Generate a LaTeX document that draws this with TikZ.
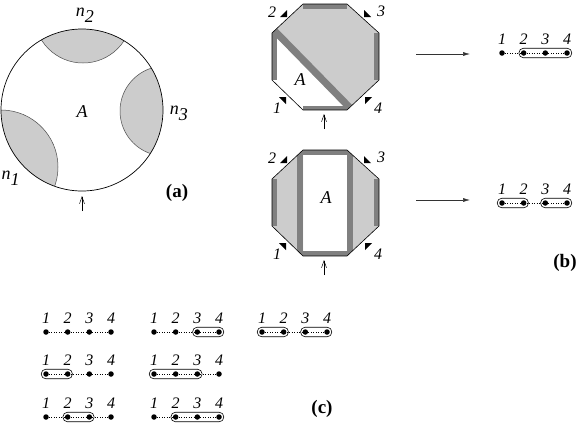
\documentclass[tikz,border=0pt]{standalone}
\usepackage{fontspec}
\setmainfont{Liberation Serif}
\usetikzlibrary{arrows.meta,fit}

\tikzset{
  pnt/.style={circle,fill=black,inner sep=0pt,minimum size=5.5pt},
  num/.style={font=\fontsize{16}{16}\selectfont\itshape,inner sep=1pt},
  txt/.style={font=\fontsize{18}{18}\selectfont\itshape,inner sep=0pt},
  tag/.style={font=\fontsize{19}{19}\selectfont\bfseries,inner sep=0pt},
  pairbox/.style={draw,rounded corners=4.5pt,inner sep=1.8pt,line width=0.6pt},
  band/.style={black!50,line width=7pt},
  halfmoon/.style={fill=gray!40,draw=black!70,line width=0.5pt},
  uparr/.style={-{Straight Barb[length=7pt,width=5pt]},line width=0.5pt},
  toarr/.style={-{Latex[length=7pt,width=4pt]},line width=0.5pt,black!80}
}

\begin{document}
\begin{tikzpicture}[x=1pt,y=-1pt,label distance=4pt]
\useasboundingbox (0,0) rectangle (581,424);

% (a)
\begin{scope}
\clip (82,110) circle (81pt);
\draw[halfmoon] (83,14) circle (49pt);
\draw[halfmoon] (165,111) circle (45pt);
\draw[halfmoon] (1,167) circle (57pt);
\end{scope}
\draw[line width=0.7pt] (82,110) circle (81pt);
\node[txt] (n2) at (85,15) {$\textit{n}_{\textit{2}}$};
\node[txt] (n3) at (179,113) {$\textit{n}_{\textit{3}}$};
\node[txt] (n1) at (11,178) {$\textit{n}_{\textit{1}}$};
\node[txt] (A1) at (82,112) {A};
\node[tag] (ta) at (177,193) {(a)};
\coordinate (a0) at (82,211);
\coordinate (a1) at (82,196);
\draw[uparr] (a0) -- (a1);

% (b) upper octagon
\fill[gray!40] (272,33) -- (303,4) -- (347,4) -- (379,33) -- (379,80) -- (347,110) -- cycle;
\begin{scope}
\clip (303,4) -- (347,4) -- (379,33) -- (379,80) -- (347,110) -- (303,110) -- (272,80) -- (272,33) -- cycle;
\draw[band] (264.5,20.5) -- (359.5,117.5);
\end{scope}
\fill[black!50] (303,4) rectangle (347,9);
\fill[black!50] (374,33) rectangle (379,80);
\fill[black!50] (272,33) rectangle (276.5,80);
\fill[black!50] (303,105.5) rectangle (347,110);
\draw[line width=0.6pt] (303,4) -- (347,4) -- (379,33) -- (379,80) -- (347,110) -- (303,110) -- (272,80) -- (272,33) -- cycle;
\fill (287,17) -- (280,17) -- (287,10) -- cycle;
\fill (364,17) -- (371,17) -- (364,10) -- cycle;
\fill (365,97) -- (372,97) -- (365,104) -- cycle;
\fill (286,97) -- (279,97) -- (286,104) -- cycle;
\node[num] (u2) at (272,12) {2};
\node[num] (u3) at (381,11) {3};
\node[num] (u1) at (277,108) {1};
\node[num] (u4) at (378,108) {4};
\node[txt] (A2) at (300,80) {A};
\coordinate (u5) at (324,129);
\coordinate (u6) at (324,114);
\draw[uparr] (u5) -- (u6);

% (b) lower octagon
\fill[gray!40] (303,150) -- (272,179) -- (272,226) -- (303,256) -- cycle;
\fill[gray!40] (347,150) -- (379,179) -- (379,226) -- (347,256) -- cycle;
\begin{scope}
\clip (303,150) -- (347,150) -- (379,179) -- (379,226) -- (347,256) -- (303,256) -- (272,226) -- (272,179) -- cycle;
\fill[black!50] (297,140) rectangle (303,266);
\fill[black!50] (347,140) rectangle (353,266);
\end{scope}
\fill[black!50] (303,150) rectangle (347,155);
\fill[black!50] (303,251) rectangle (347,256);
\fill[black!50] (272,179) rectangle (277,226);
\fill[black!50] (374,179) rectangle (379,226);
\draw[line width=0.6pt] (303,150) -- (347,150) -- (379,179) -- (379,226) -- (347,256) -- (303,256) -- (272,226) -- (272,179) -- cycle;
\fill (287,163) -- (280,163) -- (287,156) -- cycle;
\fill (364,163) -- (371,163) -- (364,156) -- cycle;
\fill (365,243) -- (372,243) -- (365,250) -- cycle;
\fill (286,243) -- (279,243) -- (286,250) -- cycle;
\node[num] (l2) at (272,158) {2};
\node[num] (l3) at (381,157) {3};
\node[num] (l1) at (277,254) {1};
\node[num] (l4) at (378,254) {4};
\node[txt] (A3) at (326,198) {A};
\coordinate (l5) at (324,275);
\coordinate (l6) at (324,260);
\draw[uparr] (l5) -- (l6);

% maps to chains
\coordinate (m1) at (416,54);
\coordinate (m2) at (470,54);
\draw[toarr] (m1) -- (m2);
\coordinate (m3) at (416,200);
\coordinate (m4) at (470,200);
\draw[toarr] (m3) -- (m4);

% chains of four points
\foreach \nm/\x/\y in {pa/502/53, pb/502/203, qa/46/332, qb/154/332, qc/262/332, qd/46/374, qe/154/374, qf/46/417, qg/154/417} {
  \foreach \i in {1,...,4}
    \node[pnt,label={[num]above:\i}] (\nm\i) at (\x+21.67*\i-21.67,\y) {};
  \draw[dotted,line width=0.5pt] (\nm1) -- (\nm2) -- (\nm3) -- (\nm4);
}
\node[pairbox,fit=(pa2)(pa4)] (ka) {};
\node[pairbox,fit=(pb1)(pb2)] (kb) {};
\node[pairbox,fit=(pb3)(pb4)] (kc) {};
\node[pairbox,fit=(qb3)(qb4)] (kd) {};
\node[pairbox,fit=(qc1)(qc2)] (ke) {};
\node[pairbox,fit=(qc3)(qc4)] (kf) {};
\node[pairbox,fit=(qd1)(qd2)] (kg) {};
\node[pairbox,fit=(qe1)(qe3)] (kh) {};
\node[pairbox,fit=(qf2)(qf3)] (ki) {};
\node[pairbox,fit=(qg2)(qg4)] (kj) {};

\node[tag] (tb) at (565,263) {(b)};
\node[tag] (tc) at (322,409) {(c)};
\end{tikzpicture}
\end{document}
